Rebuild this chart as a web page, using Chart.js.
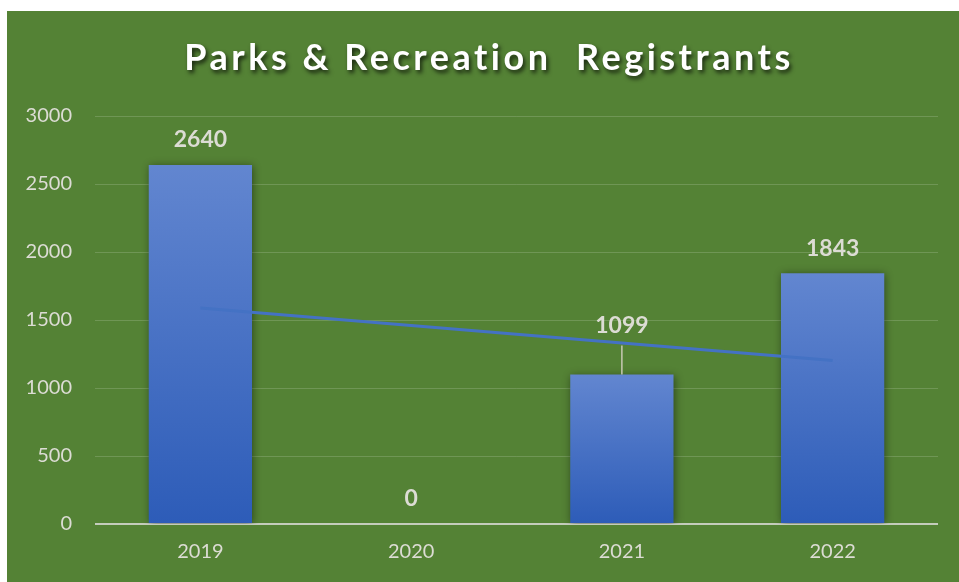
<!DOCTYPE html>
<html>
<head>
<meta charset="utf-8">
<script src="https://cdn.jsdelivr.net/npm/chart.js@4.4.1/dist/chart.umd.min.js"></script>
<style>
  html, body { margin: 0; padding: 0; background: #ffffff; }
  #wrap { position: absolute; left: 7px; top: 11px; width: 952px; height: 571px; background: #548235; }
</style>
</head>
<body>
<div id="wrap"><canvas id="myChart"></canvas></div>
<script>
// values
const years = ["2019", "2020", "2021", "2022"];
const registrants = [2640, 0, 1099, 1843];
const trendValues = [1589, 1460, 1331, 1202];
const yTicks = [0, 500, 1000, 1500, 2000, 2500, 3000];
const chartTitle = "Parks & Recreation  Registrants";

const labelColor = "#dcdcd4";
const fontName = "Lato, 'Open Sans', sans-serif";

// shadow behind the bars
const barShadow = {
  id: "barShadow",
  beforeDatasetDraw(chart, args) {
    if (args.meta.type !== "bar") return;
    const ctx = chart.ctx;
    ctx.save();
    ctx.shadowColor = "rgba(0,0,0,0.45)";
    ctx.shadowBlur = 8;
    ctx.shadowOffsetX = 1;
    ctx.shadowOffsetY = 1;
  },
  afterDatasetDraw(chart, args) {
    if (args.meta.type !== "bar") return;
    chart.ctx.restore();
  }
};

// title: wide letter spacing plus a drop shadow (space kept free by layout padding)
const spacedTitle = {
  id: "spacedTitle",
  afterDraw(chart) {
    const ctx = chart.ctx;
    ctx.save();
    ctx.letterSpacing = "3.5px";
    ctx.font = "bold 36px " + fontName;
    ctx.textAlign = "center";
    ctx.textBaseline = "middle";
    ctx.shadowColor = "rgba(0,0,0,0.7)";
    ctx.shadowBlur = 4;
    ctx.shadowOffsetX = 2;
    ctx.shadowOffsetY = 3;
    ctx.fillStyle = "#ffffff";
    ctx.fillText(chartTitle, chart.width / 2 + 6, 47);
    ctx.restore();
  }
};

// value labels above the bars, 2021 label pulled up with a leader line
const valueLabels = {
  id: "valueLabels",
  afterDatasetsDraw(chart) {
    const ctx = chart.ctx;
    const meta = chart.getDatasetMeta(1);
    ctx.save();
    ctx.font = "bold 23px " + fontName;
    ctx.textAlign = "center";
    ctx.textBaseline = "middle";
    meta.data.forEach((bar, i) => {
      const lifted = i === 2;
      const off = lifted ? 49 : 25;
      const y = bar.y - off;
      if (lifted) {
        ctx.strokeStyle = "#c8c8b4";
        ctx.lineWidth = 1.5;
        ctx.beginPath();
        ctx.moveTo(bar.x, y + 20);
        ctx.lineTo(bar.x, bar.y);
        ctx.stroke();
      }
      ctx.fillStyle = labelColor;
      ctx.fillText(String(registrants[i]), bar.x, y);
    });
    ctx.restore();
  }
};

function barGradient(context) {
  const chart = context.chart;
  const y = chart.scales.y;
  if (!y || context.dataIndex === undefined) return "#4a72c4";
  const top = y.getPixelForValue(registrants[context.dataIndex]);
  const bottom = y.getPixelForValue(0);
  if (!isFinite(top) || bottom - top < 1) return "#4a72c4";
  const g = chart.ctx.createLinearGradient(0, top, 0, bottom);
  g.addColorStop(0, "#6286d0");
  g.addColorStop(1, "#2d5cb8");
  return g;
}

const ctx = document.getElementById("myChart").getContext("2d");
const chart = new Chart(ctx, {
  data: {
    labels: years,
    datasets: [
      {
        type: "line",
        label: "Linear (Registrants)",
        data: trendValues,
        borderColor: "#4472c4",
        borderWidth: 3,
        pointRadius: 0,
        tension: 0,
        order: 0
      },
      {
        type: "bar",
        label: "Registrants",
        data: registrants,
        backgroundColor: barGradient,
        categoryPercentage: 1,
        barPercentage: 0.49,
        order: 1
      }
    ]
  },
  options: {
    responsive: true,
    maintainAspectRatio: false,
    animation: false,
    layout: { padding: { left: 0, right: 21, top: 105, bottom: 0 } },
    plugins: {
      legend: { display: false },
      tooltip: { enabled: false },
      title: { display: false }
    },
    scales: {
      x: {
        grid: { display: false, drawTicks: false },
        border: { display: false },
        ticks: { color: labelColor, font: { family: fontName, size: 20 }, padding: 16 },
        afterFit(scale) { scale.height = 58; }
      },
      y: {
        min: 0,
        max: 3000,
        afterBuildTicks(scale) { scale.ticks = yTicks.map(v => ({ value: v })); },
        grid: {
          drawTicks: false,
          color: c => c.tick && c.tick.value === 0 ? "#c4ccbc" : "rgba(255,255,255,0.16)",
          lineWidth: c => c.tick && c.tick.value === 0 ? 2 : 1
        },
        border: { display: false },
        ticks: {
          color: labelColor,
          font: { family: fontName, size: 20 },
          padding: 23,
          callback: v => String(v)
        },
        afterFit(scale) { scale.width = 88; }
      }
    }
  },
  plugins: [barShadow, spacedTitle, valueLabels]
});
</script>
</body>
</html>
